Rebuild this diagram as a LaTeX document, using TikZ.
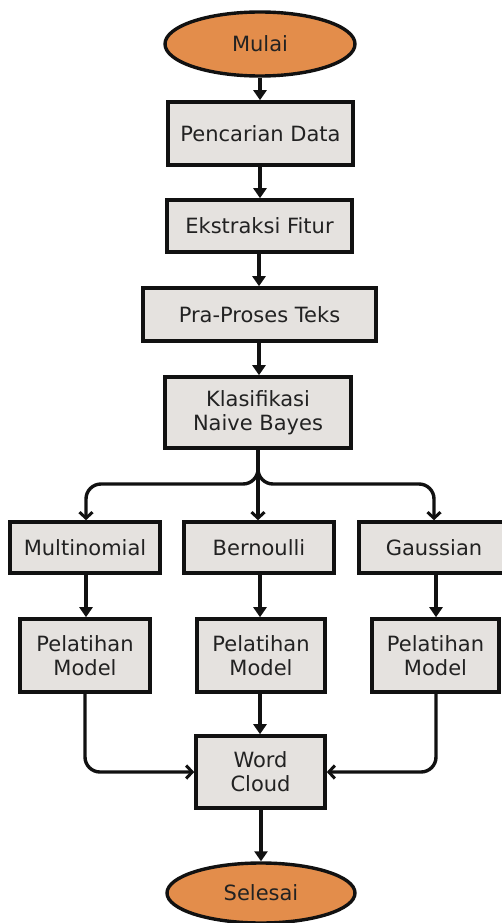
\documentclass[tikz,border=0pt]{standalone}
\usepackage{fontspec}
\setmainfont{DejaVu Sans}
\usetikzlibrary{shapes.geometric,arrows.meta}
\definecolor{boxgray}{HTML}{E5E2DF}
\definecolor{termorange}{HTML}{E38D4B}
\definecolor{ink}{HTML}{111111}
\definecolor{txt}{HTML}{222222}
\begin{document}
\begin{tikzpicture}[x=1pt,y=-1pt,
  every node/.style={font=\fontsize{21}{24}\selectfont, text=txt, inner sep=0pt, align=center},
  procbox/.style={draw=ink, line width=3.6pt, fill=boxgray, rectangle},
  termnode/.style={draw=ink, line width=3.4pt, fill=termorange, ellipse},
  flow/.style={draw=ink, line width=3.4pt, -{Triangle[width=13pt,length=10pt]}},
  branch/.style={draw=ink, line width=3.4pt, rounded corners=15pt, -{Straight Barb[width=13pt,length=6pt,line width=3pt]}}
]
\useasboundingbox (0,0) rectangle (501,923);
\fill[white] (0,0) rectangle (501,923);

\node[termnode, minimum width=190pt, minimum height=64pt] (mulai) at (260,44) {Mulai};
\node[procbox, minimum width=185pt, minimum height=63pt] (cari) at (260.5,133.5) {Pencarian Data};
\node[procbox, minimum width=185pt, minimum height=52pt] (ekstr) at (259.5,226) {Ekstraksi Fitur};
\node[procbox, minimum width=233pt, minimum height=53pt] (pra) at (259.5,314.5) {Pra-Proses Teks};
\node[procbox, minimum width=186pt, minimum height=71pt] (klas) at (258,412.5) {Klasifikasi\\Naive Bayes};

\node[procbox, minimum width=150pt, minimum height=51pt] (multi) at (85,547.5) {Multinomial};
\node[procbox, minimum width=150pt, minimum height=51pt] (bern) at (259,547.5) {Bernoulli};
\node[procbox, minimum width=150pt, minimum height=51pt] (gauss) at (434,547.5) {Gaussian};

\node[procbox, minimum width=130pt, minimum height=73pt] (pm1) at (85,655.5) {Pelatihan\\Model};
\node[procbox, minimum width=128pt, minimum height=73pt] (pm2) at (261,655.5) {Pelatihan\\Model};
\node[procbox, minimum width=127pt, minimum height=73pt] (pm3) at (435.5,655.5) {Pelatihan\\Model};

\node[procbox, minimum width=129pt, minimum height=72pt] (wc) at (260.5,772) {Word\\Cloud};
\node[termnode, minimum width=188pt, minimum height=60pt] (selesai) at (261,893) {Selesai};

\draw[flow] (mulai.south -| 260,0) -- (cari.north -| 260,0);
\draw[flow] (cari.south -| 260,0) -- (ekstr.north -| 260,0);
\draw[flow] (ekstr.south -| 259,0) -- (pra.north -| 259,0);
\draw[flow] (pra.south -| 259,0) -- (klas.north -| 259,0);

\draw[branch] (klas.south) |- (86,484) -- (multi.north -| 86,0);
\draw[branch] (klas.south) |- (434,484) -- (gauss.north);
\draw[branch] (klas.south) -- (klas.south |- bern.north);

\draw[flow] (multi.south -| 86,0) -- (pm1.north -| 86,0);
\draw[flow] (bern.south -| 260,0) -- (pm2.north -| 260,0);
\draw[flow] (gauss.south -| 436,0) -- (pm3.north -| 436,0);

\draw[flow] (pm2.south -| 260,0) -- (wc.north -| 260,0);
\draw[branch] (pm1.south -| 85,0) |- (wc.west);
\draw[branch] (pm3.south -| 436,0) |- (wc.east);

\draw[flow] (wc.south -| 261,0) -- (selesai.north -| 261,0);
\end{tikzpicture}
\end{document}
